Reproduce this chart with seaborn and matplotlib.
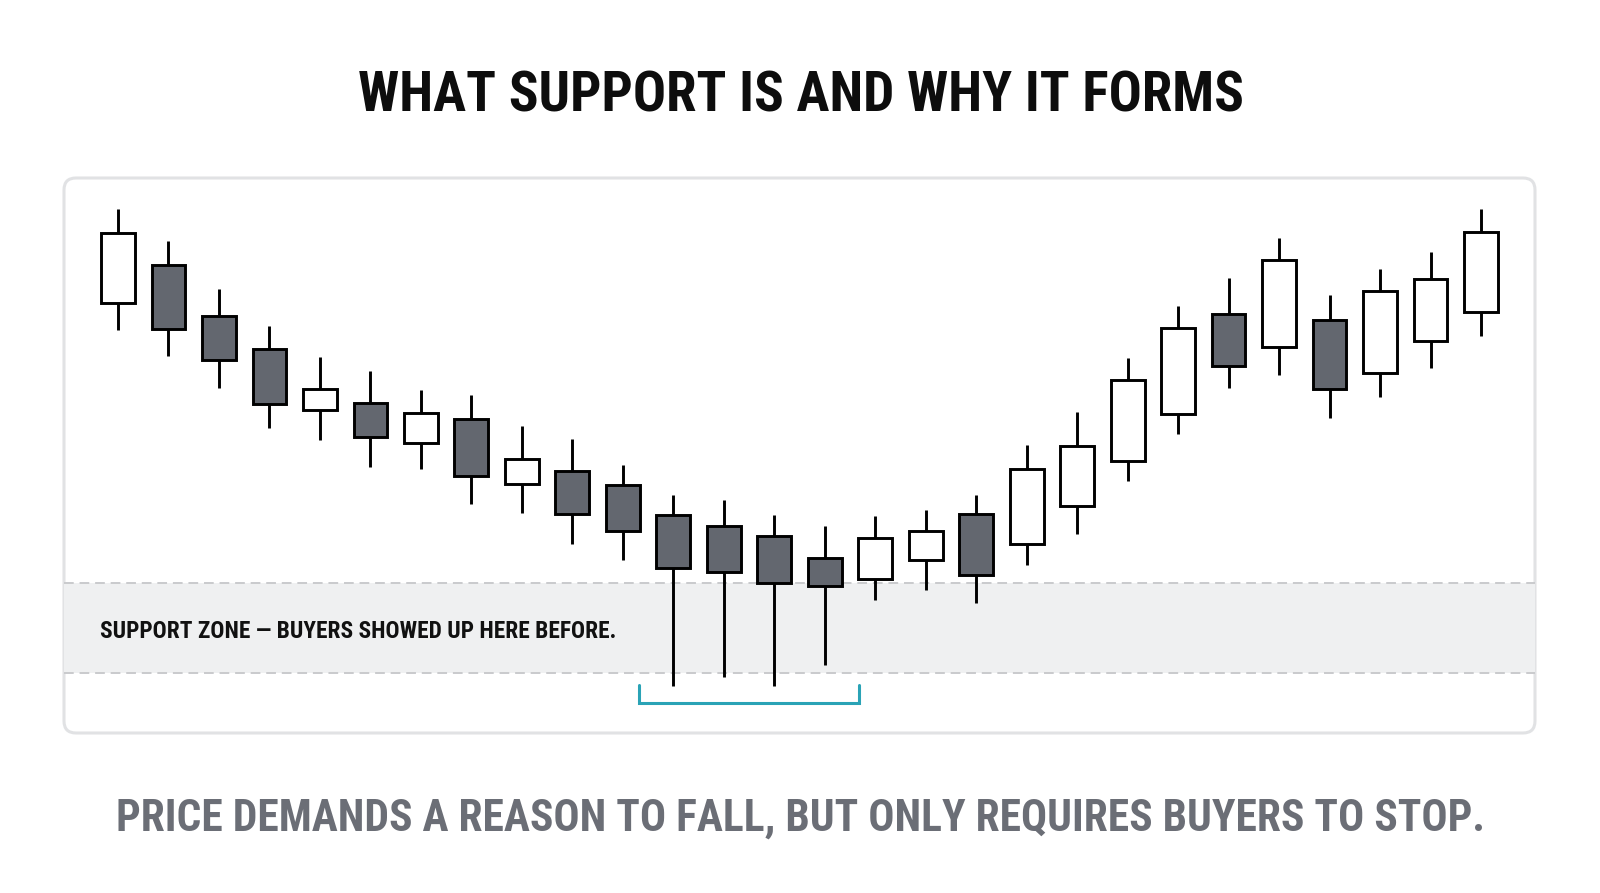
import numpy as np
import pandas as pd
import seaborn as sns
import matplotlib.pyplot as plt
from matplotlib import font_manager
from matplotlib.patches import FancyBboxPatch

# candle values (price units, arbitrary scale)
opens = [79.5, 86.9, 76.8, 70.3, 58.0, 59.4, 51.5, 56.3, 43.3, 45.8,
         43.1, 37.1, 34.9, 32.9, 28.4, 24.3, 28.1, 37.2, 31.2, 38.9,
         47.9, 57.3, 77.3, 70.7, 76.1, 65.5, 71.8, 77.6]
highs = [98.3, 91.9, 82.2, 74.9, 68.7, 65.9, 62.0, 61.0, 54.9, 52.3,
         47.1, 41.1, 40.0, 37.1, 34.9, 36.8, 38.1, 41.1, 51.0, 57.7,
         68.5, 78.9, 84.5, 92.5, 81.1, 86.3, 89.7, 98.3]
lows = [74.0, 68.8, 62.5, 54.4, 52.0, 46.7, 46.3, 39.3, 37.5, 31.3,
        28.1, 2.9, 4.7, 2.8, 7.0, 20.1, 22.0, 19.5, 27.0, 33.2,
        43.8, 53.3, 62.5, 65.0, 56.5, 60.7, 66.4, 72.9]
closes = [93.5, 74.3, 68.1, 59.2, 62.2, 52.7, 57.5, 44.8, 48.1, 37.2,
          33.9, 26.5, 25.7, 23.5, 22.8, 32.4, 33.9, 25.1, 46.2, 50.7,
          64.0, 74.5, 66.8, 88.0, 62.2, 81.9, 84.3, 93.5]
zone_low, zone_high = 5.5, 23.5
bracket_candles = [11, 14]  # the long-wick rejection candles

title = "WHAT SUPPORT IS AND WHY IT FORMS"
zone_label = "SUPPORT ZONE \u2014 BUYERS SHOWED UP HERE BEFORE."
caption = "PRICE DEMANDS A REASON TO FALL, BUT ONLY REQUIRES BUYERS TO STOP."

df = pd.DataFrame({"open": opens, "high": highs, "low": lows, "close": closes})
df["x"] = np.arange(len(df))
df["bottom"] = df[["open", "close"]].min(axis=1)
df["height"] = (df["open"] - df["close"]).abs()
df["up"] = df["close"] > df["open"]

sns.set_theme(style="white")
available = {f.name for f in font_manager.fontManager.ttflist}
narrow = [f for f in ["Liberation Sans Narrow", "Roboto Condensed"] if f in available]
plt.rcParams["font.family"] = narrow + ["Roboto", "DejaVu Sans"]

fig = plt.figure(figsize=(16, 8.93), dpi=100)
fig.patch.set_facecolor("white")

# card behind the chart
card = FancyBboxPatch((0.64, 1.60), 14.71, 5.55,
                      boxstyle="round,pad=0,rounding_size=0.12",
                      transform=fig.dpi_scale_trans, fc="white",
                      ec="#e1e2e4", lw=2.2, zorder=-5)
fig.patches.append(card)

ax = fig.add_axes([64 / 1600, (893 - 733) / 893, (1535 - 64) / 1600, (733 - 178) / 893])
ax.set_zorder(2)
ax.patch.set_alpha(0)
ax.set_xlim(-1.07, 28.07)
ax.set_ylim(-6.6, 104.4)
ax.set_axis_off()

# support zone
ax.axhspan(zone_low, zone_high, color="#eff0f1", lw=0, zorder=1)
for lvl in (zone_low, zone_high):
    ax.axhline(lvl, color="#c9cacd", lw=1.4, ls=(0, (5, 3)), zorder=2)

# wicks then bodies
ax.vlines(df["x"], df["low"], df["high"], color="black", lw=2.1, zorder=3)
colors = np.where(df["up"], "white", "#63676f")
ax.bar(df["x"], df["height"], bottom=df["bottom"], width=0.67,
       color=colors, edgecolor="black", linewidth=2.1, zorder=4)

# bracket under the rejection wicks
x0, x1 = bracket_candles[0] - 0.67, bracket_candles[1] + 0.68
ax.plot([x0, x0, x1, x1], [3.0, -0.5, -0.5, 3.0], color="#2aa3b6", lw=2.2,
        solid_joinstyle="miter", zorder=3)

t3 = ax.text(-0.36, (700 - 638) / 5, zone_label, ha="left", va="baseline",
             fontsize=17, fontweight="bold", color="#111111", zorder=5)

t1 = fig.text(801 / 1600, 1 - 111 / 893, title, ha="center", va="baseline",
              fontsize=40, fontweight="heavy", color="#0d0d0d")
t2 = fig.text(801 / 1600, 1 - 831 / 893, caption, ha="center", va="baseline",
              fontsize=32, fontweight="bold", color="#6b6e76")


def fit_width(t, width_px):
    r = fig.canvas.get_renderer()
    w = t.get_window_extent(r).width
    t.set_fontsize(t.get_fontsize() * width_px / w)


fig.canvas.draw()
fit_width(t1, 884)
fit_width(t2, 1372)
fit_width(t3, 517)

fig.savefig("out.png", dpi=100, facecolor="white")
